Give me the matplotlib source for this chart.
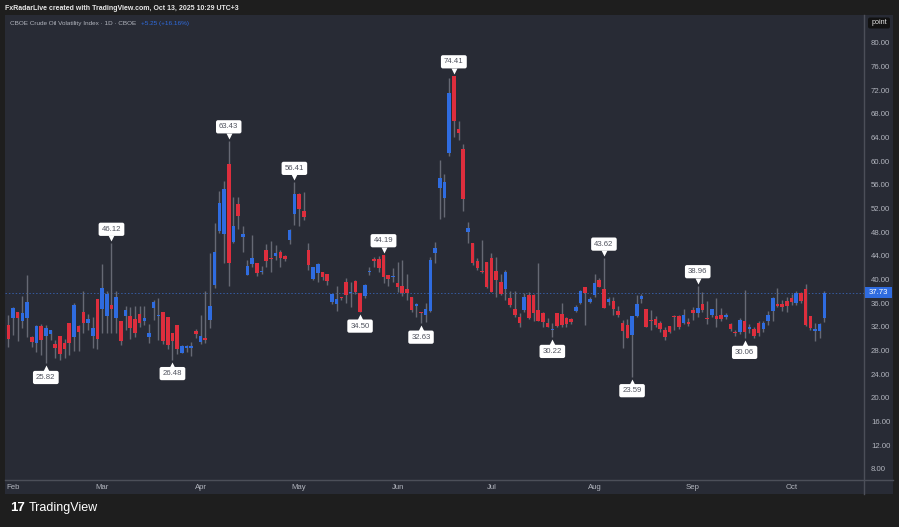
import matplotlib
matplotlib.use("Agg")
import matplotlib.pyplot as plt
from matplotlib.patches import Rectangle, FancyBboxPatch
from matplotlib.transforms import ScaledTranslation
import numpy as np

plt.rcParams["font.family"] = ["Liberation Sans", "DejaVu Sans"]

# OVX daily candles, 31 Jan 2025 -> 10 Oct 2025
opens = [32.3, 33.55, 34.5, 33.05, 33.55, 30.33, 29.33, 32.15, 30.46, 30.8,
         29.1, 30.46, 29.2, 32.6, 30.3, 32.2, 34.6, 32.7, 30.46, 36.7,
         35.0, 33.8, 35.7, 33.45, 33.0, 33.9, 33.85, 33.3, 34.1, 33.05,
         30.3, 35.2, 33.8, 34.55, 33.6, 30.9, 32.3, 27.6, 28.5, 28.5,
         31.3, 29.4, 29.95, 33.16, 39.0, 48.2, 47.7, 59.5, 46.3, 52.7,
         47.2, 40.8, 42.6, 42.75, 41.2, 44.96, 43.6, 44.0, 44.6, 44.0,
         46.6, 51.0, 54.4, 51.6, 44.98, 40.1, 41.15, 41.2, 40.9, 36.25,
         35.8, 36.9, 39.5, 37.7, 39.8, 37.65, 37.2, 41.3, 43.5, 43.5,
         44.1, 40.75, 40.4, 39.35, 38.9, 38.4, 37.1, 35.6, 34.5, 34.0,
         34.7, 44.4, 55.4, 53.7, 61.4, 74.35, 65.4, 62.0, 48.1, 46.1,
         43.2, 41.35, 42.9, 43.6, 41.5, 39.5, 38.35, 36.8, 35.1, 33.6,
         34.85, 37.4, 37.4, 34.85, 34.4, 32.6, 31.4, 34.3, 34.2, 33.45,
         33.3, 34.7, 36.0, 38.7, 36.15, 37.45, 39.9, 38.35, 36.15, 36.3,
         34.75, 32.6, 32.3, 30.6, 33.85, 36.7, 35.0, 33.2, 33.3, 32.6,
         31.47, 32.15, 33.9, 33.85, 32.6, 32.9, 34.85, 34.3, 35.9, 33.55,
         34.0, 33.85, 34.0, 33.75, 32.45, 31.2, 31.1, 33.0, 31.7, 31.6,
         32.6, 31.6, 33.05, 34.7, 35.8, 35.9, 36.4, 36.9, 36.1, 37.65,
         38.4, 33.85, 31.3, 31.35, 33.45]
highs = [34.0, 35.3, 34.6, 37.2, 40.76, 30.5, 32.3, 32.5, 32.4, 31.5,
         29.8, 30.5, 29.9, 32.7, 36.1, 32.3, 38.0, 34.2, 33.7, 36.7,
         42.6, 38.0, 46.12, 38.0, 33.0, 35.5, 35.4, 35.6, 35.5, 35.6,
         32.5, 36.5, 36.8, 34.6, 33.7, 31.0, 32.3, 28.9, 28.9, 29.5,
         31.6, 34.0, 38.1, 44.4, 49.5, 54.96, 56.7, 63.43, 53.9, 53.9,
         49.0, 43.3, 47.5, 42.8, 42.3, 46.0, 46.5, 45.8, 45.0, 44.2,
         48.6, 56.41, 54.6, 54.8, 46.1, 42.2, 42.8, 41.2, 40.9, 37.6,
         38.9, 37.1, 40.2, 39.6, 40.0, 37.7, 39.3, 42.1, 43.8, 43.9,
         44.19, 40.8, 41.9, 43.0, 43.3, 40.9, 37.1, 36.1, 34.5, 36.0,
         43.85, 46.4, 60.2, 57.9, 74.0, 74.41, 66.8, 62.85, 49.75, 46.1,
         43.6, 46.7, 43.0, 44.55, 43.85, 40.9, 41.6, 38.1, 38.1, 34.4,
         37.65, 37.95, 37.5, 42.75, 34.5, 33.45, 32.6, 34.3, 36.1, 33.7,
         33.45, 35.7, 38.25, 38.8, 37.1, 41.0, 40.2, 43.62, 37.1, 37.1,
         35.5, 33.15, 33.3, 33.9, 37.4, 37.5, 35.0, 34.85, 33.85, 33.05,
         32.0, 32.2, 34.0, 34.0, 35.0, 33.45, 35.3, 38.96, 37.85, 36.4,
         35.0, 36.85, 35.2, 34.3, 32.6, 31.4, 33.5, 38.2, 32.5, 31.9,
         33.0, 33.0, 34.7, 37.0, 38.5, 36.6, 37.0, 37.5, 38.0, 37.9,
         39.2, 33.85, 32.6, 32.6, 38.0]
lows = [28.6, 30.6, 29.6, 31.8, 30.33, 28.55, 27.8, 27.2, 25.82, 29.8,
        26.7, 26.4, 26.7, 27.2, 28.0, 27.9, 31.0, 31.5, 28.4, 28.3,
        30.9, 31.0, 30.9, 30.9, 28.9, 31.5, 29.9, 30.3, 31.9, 32.3,
        29.2, 33.2, 29.8, 29.1, 28.3, 26.48, 27.4, 27.6, 27.8, 27.0,
        30.2, 29.1, 29.3, 31.76, 38.5, 47.8, 42.75, 38.95, 46.1, 48.5,
        44.7, 40.8, 42.15, 40.6, 40.9, 42.15, 41.2, 43.3, 42.2, 43.2,
        46.0, 49.2, 49.0, 50.0, 41.6, 39.9, 39.6, 40.0, 39.1, 35.9,
        34.7, 36.6, 36.0, 35.4, 37.6, 34.5, 36.9, 40.8, 42.1, 41.3,
        39.35, 38.9, 39.6, 37.9, 37.2, 36.5, 34.6, 33.7, 32.63, 32.9,
        34.55, 42.75, 50.3, 50.6, 60.85, 64.1, 63.55, 51.6, 46.1, 42.45,
        41.6, 41.05, 38.6, 37.9, 37.1, 37.4, 36.6, 35.3, 33.7, 32.0,
        34.55, 33.3, 33.0, 33.0, 32.0, 31.9, 30.22, 31.9, 32.0, 32.0,
        32.5, 34.55, 35.85, 32.3, 36.0, 37.1, 38.8, 35.15, 35.7, 34.0,
        33.6, 28.4, 30.05, 23.59, 33.7, 36.0, 31.9, 31.47, 31.9, 31.2,
        29.8, 30.9, 31.47, 31.6, 32.5, 32.1, 33.16, 33.6, 34.55, 32.45,
        33.6, 32.0, 33.0, 33.4, 31.3, 30.5, 30.85, 30.06, 30.9, 30.2,
        30.5, 31.2, 32.3, 33.05, 35.4, 34.7, 34.5, 35.7, 35.7, 36.1,
        32.15, 31.5, 29.7, 30.05, 32.9]
closes = [29.9, 35.2, 33.55, 34.3, 36.2, 29.5, 32.15, 29.78, 31.76, 31.47,
          28.4, 27.4, 28.2, 29.3, 35.7, 31.2, 32.7, 33.3, 31.76, 29.9,
          38.5, 37.5, 35.0, 37.1, 29.7, 34.85, 31.8, 31.0, 32.7, 33.55,
          30.9, 36.15, 33.9, 29.65, 28.9, 29.65, 28.2, 28.7, 28.6, 28.7,
          30.85, 30.5, 29.85, 35.5, 44.6, 52.9, 55.3, 42.8, 49.05, 50.8,
          47.7, 42.35, 43.6, 41.15, 41.3, 43.18, 43.5, 44.4, 43.6, 43.45,
          48.35, 54.4, 51.85, 50.5, 42.45, 42.05, 42.6, 40.5, 39.7, 37.5,
          36.7, 36.8, 37.4, 37.8, 37.85, 34.56, 39.0, 41.4, 43.1, 41.9,
          40.4, 40.1, 40.5, 38.7, 37.65, 37.65, 34.85, 35.7, 34.4, 35.0,
          43.3, 45.3, 57.2, 56.5, 71.45, 66.8, 64.7, 53.6, 48.65, 42.75,
          41.9, 41.2, 38.8, 37.95, 40.0, 37.55, 41.2, 35.7, 34.0, 32.7,
          37.0, 33.45, 34.4, 33.05, 32.9, 32.0, 31.5, 32.15, 32.3, 32.45,
          32.8, 35.4, 38.05, 37.65, 36.7, 39.35, 38.8, 35.25, 36.65, 35.0,
          34.0, 31.35, 30.15, 33.85, 35.9, 37.2, 32.05, 33.0, 32.3, 31.6,
          30.35, 31.2, 33.6, 31.9, 34.0, 32.45, 34.3, 35.15, 34.85, 33.3,
          35.0, 33.3, 33.3, 33.9, 31.65, 30.9, 33.15, 31.1, 31.85, 30.5,
          30.9, 32.6, 34.0, 36.8, 35.5, 35.4, 35.5, 36.25, 37.65, 36.4,
          32.3, 31.75, 31.6, 32.49, 37.73]

# sessions per month after the first bar (31 Jan)
month_labels = ["Feb", "Mar", "Apr", "May", "Jun", "Jul", "Aug", "Sep", "Oct"]
month_sessions = [19, 21, 21, 21, 20, 22, 21, 21, 8]

# bars carrying the swing high / swing low tags
high_tags = [22, 47, 61, 80, 95, 127, 147]
low_tags = [8, 35, 75, 88, 116, 133, 157]

y_ticks = list(range(8, 81, 4))
last_change = "+5.25 (+16.16%)"

UP = "#2f6ce0"
DOWN = "#dd2e3d"
WICK = "#666974"
PANEL = "#282b35"
FRAME = "#1e1e1e"
TXT = "#b2b5be"

W, H = 899, 527
fig = plt.figure(figsize=(W / 100, H / 100), dpi=100, facecolor=FRAME)

# pixel-space background layer
bg = fig.add_axes([0, 0, 1, 1])
bg.set_xlim(0, W)
bg.set_ylim(H, 0)
bg.axis("off")
bg.add_patch(Rectangle((5, 15), 888, 479, fc=PANEL, ec="none"))
bg.plot([864, 864], [15, 494], color="#4c4f59", lw=1)
bg.plot([5, 893], [480, 480], color="#4c4f59", lw=1)
bg.text(5, 8, "FxRadarLive created with TradingView.com, Oct 13, 2025 10:29 UTC+3",
        color="#e8e8e8", fontsize=5.0, va="center", ha="left", fontweight="bold")
bg.add_patch(FancyBboxPatch((868, 17.5), 22, 11, boxstyle="round,pad=0,rounding_size=2",
                            fc="#121212", ec="none"))
bg.text(879, 23, "point", color="#e8e8e8", fontsize=5.2, ha="center", va="center")
logo = bg.text(10, 508, "17", color="white", fontsize=9.5, fontweight="bold",
               ha="left", va="center")
bg.annotate("TradingView", xy=(1, 0.5), xycoords=logo, xytext=(4, 0),
            textcoords="offset pixels", color="white", fontsize=9,
            ha="left", va="center")

# price axes
left, right = 5, 864
top, bottom = 15, 480
ax = fig.add_axes([left / W, 1 - bottom / H, (right - left) / W, (bottom - top) / H])
ax.set_facecolor("none")
px_bar = 4.69
x0 = -(8.3 - left) / px_bar
ax.set_xlim(x0, x0 + (right - left) / px_bar)
ax.set_ylim(6.14, 84.68)

o = np.array(opens)
hgh = np.array(highs)
lw_ = np.array(lows)
c = np.array(closes)
idx = np.arange(len(o))
cols = np.where(c >= o, UP, DOWN)

ax.vlines(idx, lw_, hgh, color=WICK, lw=1.0, zorder=2)
body = np.maximum(np.abs(c - o), 0.2)
ax.bar(idx, body, bottom=np.minimum(o, c), width=0.76, color=cols, lw=0, zorder=3)

# last price line
ax.axhline(c[-1], color="#3a6cc8", lw=0.7, ls=(0, (1.5, 2)), alpha=0.75, zorder=1)


# swing tags
def tag(i, val, above):
    sign = 1 if above else -1
    ax.annotate(f"{val:.2f}", (i, val), xytext=(0, sign * 14), textcoords="offset pixels",
                ha="center", va="center", fontsize=5.6, color="#50535e", zorder=6,
                bbox=dict(boxstyle="round,pad=0.4,rounding_size=0.25", fc="white", ec="none"))
    ax.plot(i, val, marker="v" if above else "^", ms=4, color="white", mec="none",
            transform=ax.transData + ScaledTranslation(0, sign * 5 / 100, fig.dpi_scale_trans),
            zorder=6)


for i in high_tags:
    tag(i, highs[i], True)
for i in low_tags:
    tag(i, lows[i], False)

# axis ticks
ax.yaxis.tick_right()
ax.set_yticks(y_ticks)
ax.set_yticklabels([f"{v:.2f}" for v in y_ticks])
month_pos = 1 + np.concatenate([[0], np.cumsum(month_sessions)[:-1]])
ax.set_xticks(month_pos)
ax.set_xticklabels(month_labels)
ax.tick_params(axis="both", length=0, colors=TXT, labelsize=5.6)
ax.tick_params(axis="y", pad=5)
ax.tick_params(axis="x", pad=3)
for s in ax.spines.values():
    s.set_visible(False)

# last price badge on the scale
yl = ax.get_ylim()
ypx = top + (yl[1] - c[-1]) / (yl[1] - yl[0]) * (bottom - top)
bg.add_patch(Rectangle((865, ypx - 5.5), 27, 11, fc="#2f6ce0", ec="none", zorder=5))
ax.annotate(f"{c[-1]:.2f}", (1.0, c[-1]), xycoords=("axes fraction", "data"),
            xytext=(14, 0), textcoords="offset pixels", ha="center", va="center",
            fontsize=5.6, color="white", zorder=7, annotation_clip=False)

# legend line
title = bg.text(10, 23.5, "CBOE Crude Oil Volatility Index · 1D · CBOE", color=TXT,
                fontsize=4.6, ha="left", va="center")
bg.annotate(last_change, xy=(1, 0.5), xycoords=title, xytext=(5, 0),
            textcoords="offset pixels", color="#2f6ce0", fontsize=4.6,
            ha="left", va="center")

fig.savefig("out.png", dpi=100, facecolor=FRAME)
